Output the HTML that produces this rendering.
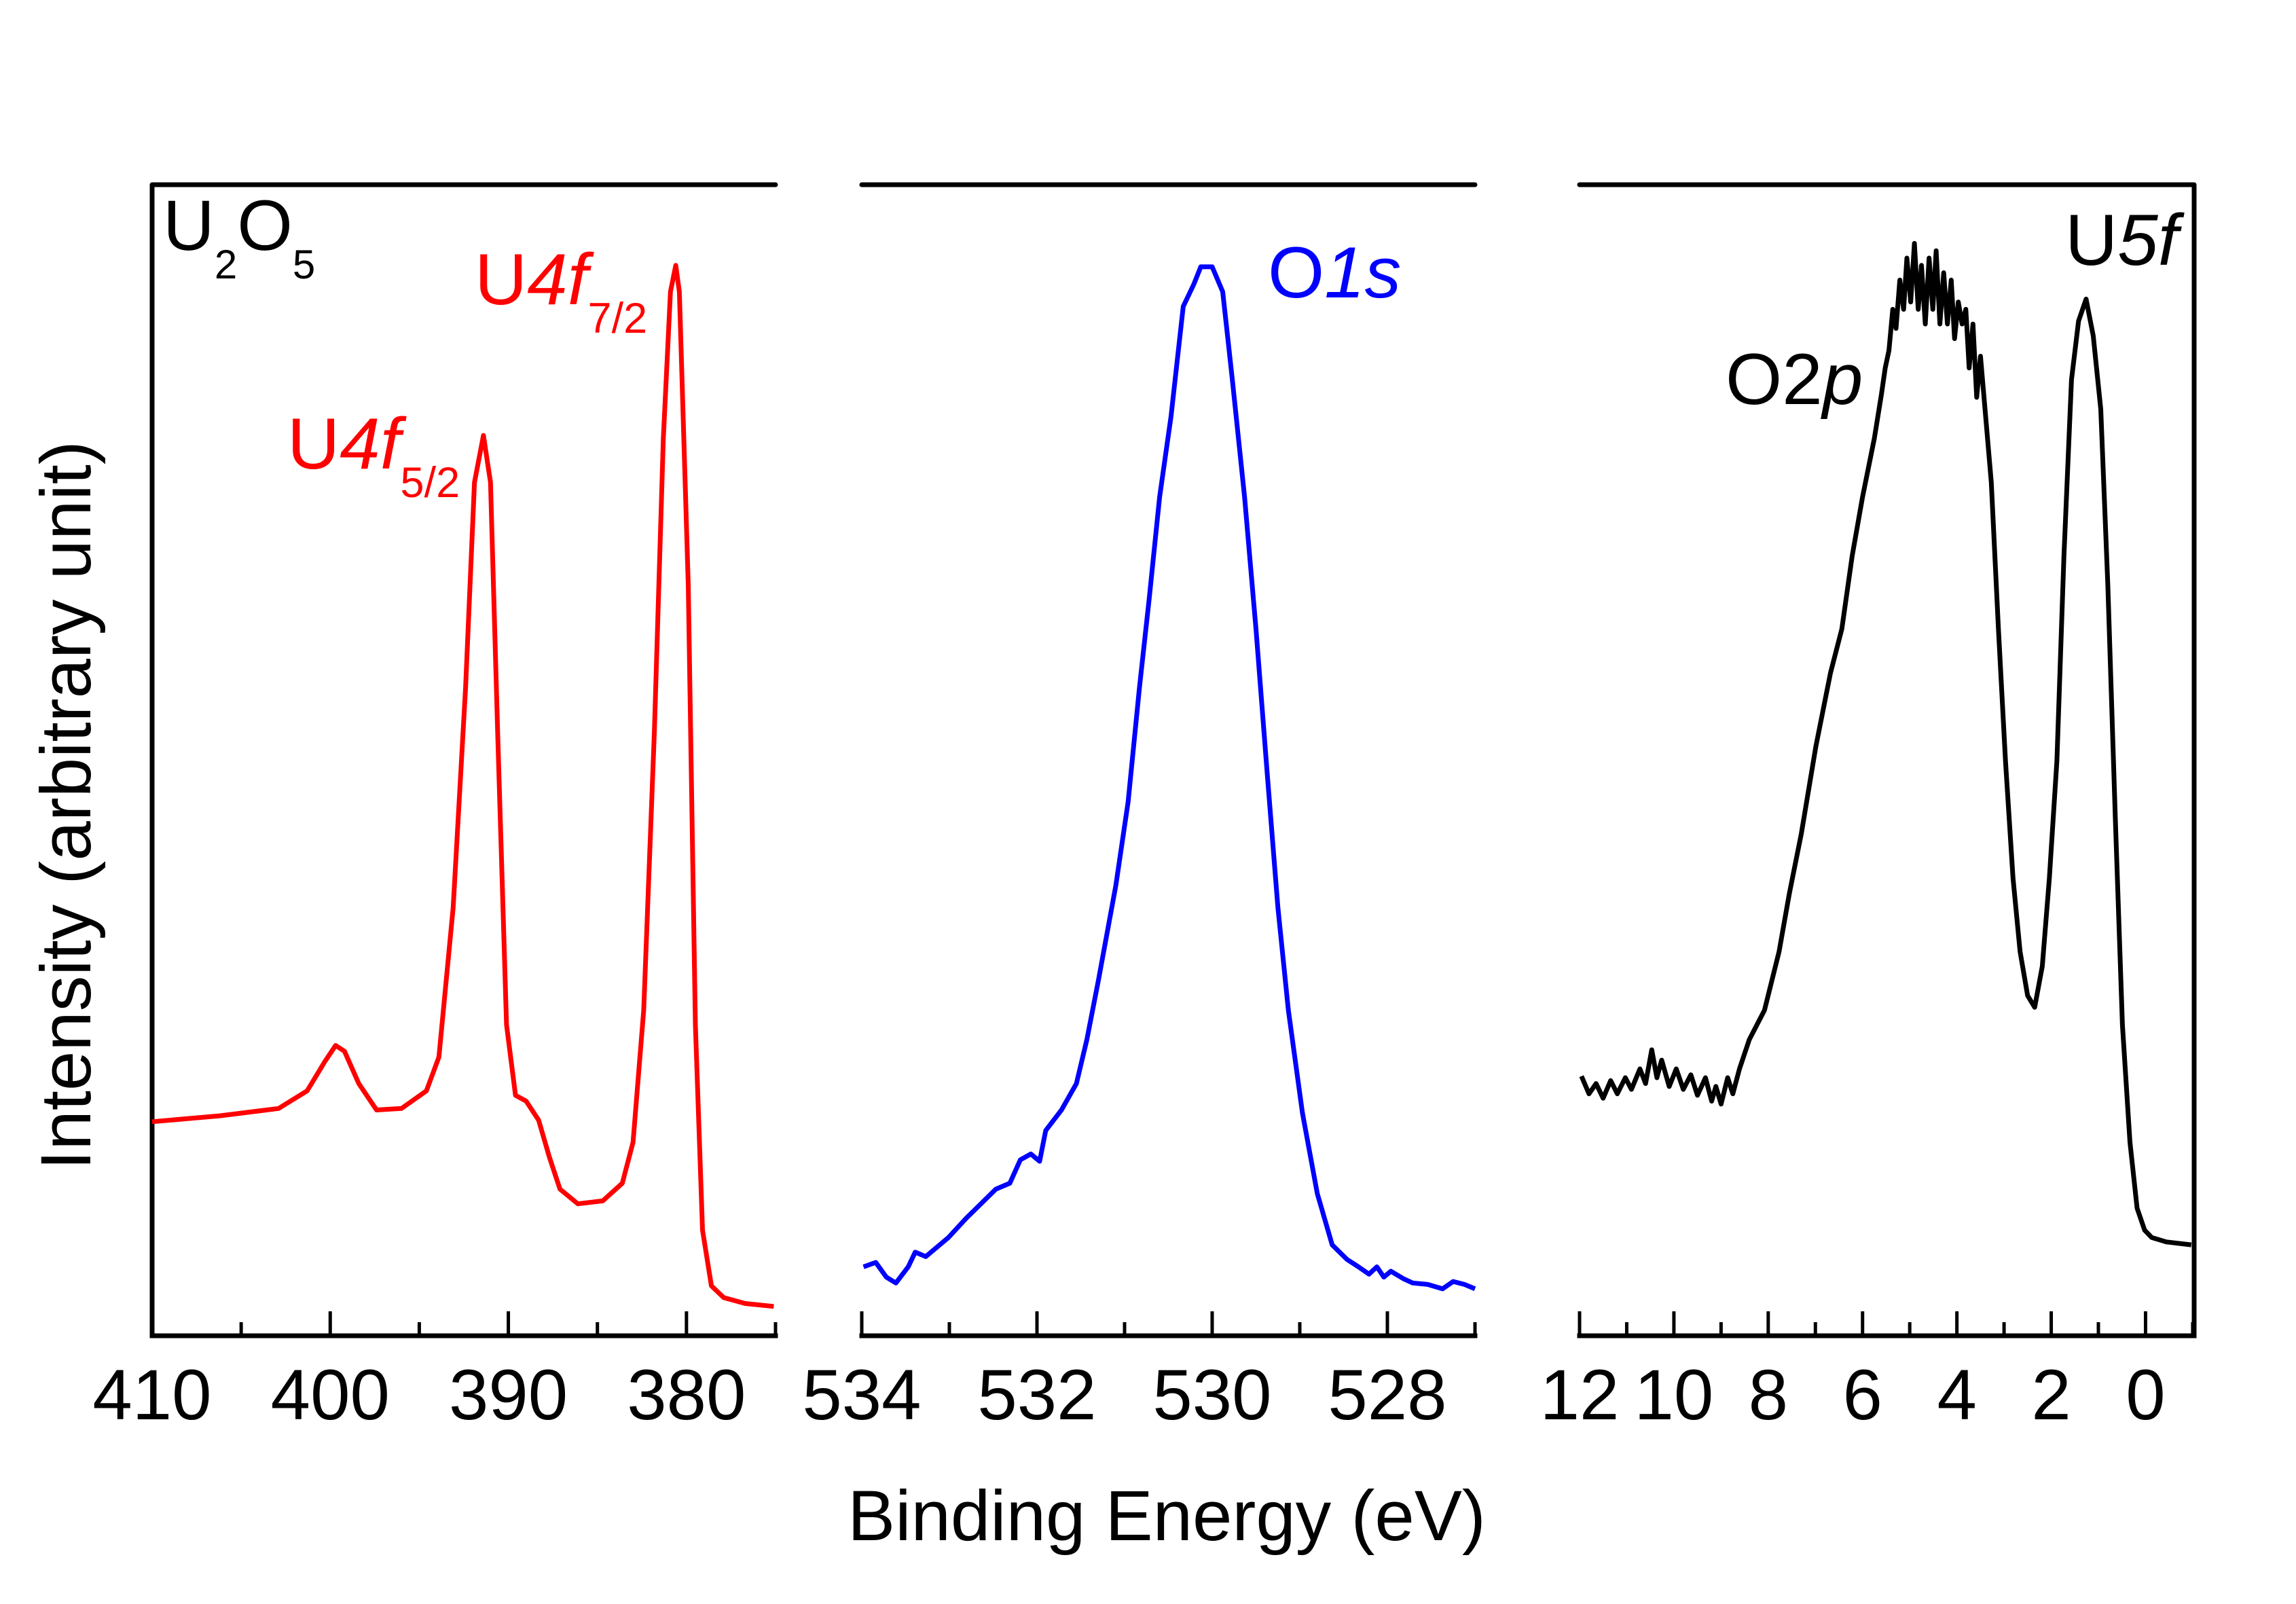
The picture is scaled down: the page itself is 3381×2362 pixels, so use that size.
<!DOCTYPE html>
<html><head><meta charset="utf-8"><style>
html,body{margin:0;padding:0;background:#fff;}
svg{display:block;font-family:"Liberation Sans",Arial,sans-serif;}
</style></head><body>
<svg id="chart" width="3381" height="2362" viewBox="0 0 3381 2362">
<rect width="3381" height="2362" fill="#fff"/>
<g id="frames"></g>
<g id="series"></g>
<g id="labels">
<text x="240" y="368" font-size="105" fill="#000">U<tspan font-size="60" dy="42">2</tspan><tspan dy="-42">O</tspan><tspan font-size="60" dy="42">5</tspan></text>
<text x="699" y="448" font-size="107" fill="#f00">U<tspan font-style="italic">4f</tspan><tspan font-size="63" dy="42">7/2</tspan></text>
<text x="423" y="690" font-size="107" fill="#f00">U<tspan font-style="italic">4f</tspan><tspan font-size="63" dy="42">5/2</tspan></text>
<text x="1867" y="438" font-size="107" fill="#0000ff">O<tspan font-style="italic">1s</tspan></text>
<text x="2541" y="595" font-size="107" fill="#000">O2<tspan font-style="italic">p</tspan></text>
<text x="3041" y="390" font-size="107" fill="#000">U<tspan font-style="italic">5f</tspan></text>
<text x="0" y="0" font-size="105" fill="#000" text-anchor="middle" transform="translate(133,1186) rotate(-90)">Intensity (arbitrary unit)</text>
<text x="1718" y="2268" font-size="105" fill="#000" text-anchor="middle">Binding Energy (eV)</text>
</g>
</svg>
<script>
// Panel 1: U4f (red)
const u4fEnergy=[410,406.2,402.9,401.3,400.3,399.7,399.2,398.4,397.4,396.0,394.6,393.9,393.1,392.4,391.9,391.4,391.0,390.6,390.1,389.6,389.0,388.3,387.7,387.1,386.1,384.7,383.6,383.0,382.4,381.8,381.3,380.9,380.6,380.4,379.9,379.5,379.1,378.6,377.9,376.7,375.1];
const u4fIntensity=[146,150,155,167,187,198,194,172,154,155,167,190,292,442,582,614,582,412,212,164,160,147,122,100,90,92,104,132,222,412,612,712,730,712,512,212,72,34,26,22,20];
// Panel 2: O1s (blue)
const o1sEnergy=[533.98,533.84,533.72,533.61,533.47,533.39,533.27,533.01,532.81,532.47,532.31,532.19,532.07,531.97,531.90,531.72,531.55,531.43,531.30,531.10,530.96,530.83,530.72,530.60,530.47,530.33,530.21,530.13,530.00,529.88,529.77,529.63,529.50,529.37,529.25,529.13,528.97,528.80,528.63,528.46,528.33,528.21,528.12,528.04,527.96,527.82,527.71,527.54,527.37,527.25,527.12,527.00];
const o1sIntensity=[47,50,40,36,47,57,54,67,80,100,104,120,124,119,140,154,172,202,242,307,364,442,502,572,627,702,717,729,729,712,652,572,482,382,292,222,152,97,62,52,47,42,47,40,44,39,36,35,32,37,35,32];
// Panel 3: valence band (black)
const vbEnergy=[11.96,11.8,11.65,11.5,11.34,11.2,11.03,10.9,10.72,10.6,10.47,10.36,10.26,10.1,9.95,9.8,9.64,9.5,9.33,9.2,9.11,9.0,8.86,8.75,8.61,8.40,8.08,7.77,7.55,7.30,6.99,6.68,6.44,6.22,6.00,5.75,5.60,5.52,5.44,5.36,5.29,5.21,5.13,5.06,4.98,4.90,4.82,4.75,4.67,4.59,4.51,4.44,4.36,4.28,4.20,4.12,4.05,3.97,3.89,3.81,3.74,3.66,3.58,3.50,3.43,3.27,3.12,2.97,2.81,2.66,2.50,2.35,2.19,2.04,1.88,1.73,1.57,1.42,1.26,1.11,0.95,0.80,0.64,0.49,0.33,0.18,0.02,-0.13,-0.44,-0.97];
const vbIntensity=[177,165,172,162,174,165,176,168,182,172,195,176,188,170,182,168,178,164,176,160,170,158,176,165,182,202,222,262,302,342,402,452,482,532,572,612,642,660,672,700,687,720,700,735,705,745,700,730,690,735,700,740,690,725,690,720,680,705,690,700,660,690,640,668,642,582,482,392,312,262,232,224,252,312,392,532,652,692,707,682,632,512,352,212,132,87,72,67,64,62];
// Tick labels
const ticks1=[410,400,390,380];
const ticks2=[534,532,530,528];
const ticks3=[12,10,8,6,4,2,0];

const NS='http://www.w3.org/2000/svg';
const TOP=272,BOT=1967;
function yScale(v){return BOT-v*(BOT-TOP)/785;}
function mk(tag,attrs,parent){const e=document.createElementNS(NS,tag);for(const k in attrs)e.setAttribute(k,attrs[k]);parent.appendChild(e);return e;}
const frames=document.getElementById('frames');
const series=document.getElementById('series');
const panels=[
 {name:'u4f',x0:224,x1:1142,e0:410,e1:375,ticks:ticks1,minorStep:5,left:true,right:false,E:u4fEnergy,I:u4fIntensity,color:'#ff0000'},
 {name:'o1s',x0:1269,x1:2172,e0:534,e1:527,ticks:ticks2,minorStep:1,left:false,right:false,E:o1sEnergy,I:o1sIntensity,color:'#0000ff'},
 {name:'valence',x0:2326,x1:3231,e0:12,e1:-1.03,ticks:ticks3,minorStep:1,left:false,right:true,E:vbEnergy,I:vbIntensity,color:'#000000'}
];
panels.forEach(p=>{
 const xs=e=>p.x0+(e-p.e0)*(p.x1-p.x0)/(p.e1-p.e0);
 let l=mk('line',{x1:p.x0,y1:TOP,x2:p.x1,y2:TOP,stroke:'#000','stroke-width':7,'stroke-linecap':'round'},frames);
 
 
 l=mk('line',{x1:p.x0,y1:BOT,x2:p.x1,y2:BOT,stroke:'#000','stroke-width':7,'stroke-linecap':'square'},frames);
 
 
 if(p.left){l=mk('line',{x1:p.x0,y1:TOP,x2:p.x0,y2:BOT,stroke:'#000','stroke-width':7},frames);
 
 }
 if(p.right){l=mk('line',{x1:p.x1,y1:TOP,x2:p.x1,y2:BOT,stroke:'#000','stroke-width':7},frames);
 
 }
 const lo=Math.min(p.e0,p.e1),hi=Math.max(p.e0,p.e1);
 for(let e=Math.ceil(lo/p.minorStep)*p.minorStep;e<=hi+1e-9;e+=p.minorStep){
  const major=p.ticks.some(t=>Math.abs(t-e)<1e-9);
  const x=xs(e);
  const t=mk('line',{x1:x,y1:BOT,x2:x,y2:BOT-(major?36:20),stroke:'#000','stroke-width':5},frames);
  
  
 }
 p.ticks.forEach(v=>{
  const t=mk('text',{x:xs(v),y:2090,'font-size':105,'text-anchor':'middle',fill:'#000'},frames);
  t.textContent=String(v);
  
  
 });
 const pts=p.E.map((e,i)=>xs(e).toFixed(1)+','+yScale(p.I[i]).toFixed(1)).join(' ');
 const pl=mk('polyline',{points:pts,fill:'none',stroke:p.color,'stroke-width':7,'stroke-linejoin':'round'},series);
 
 
});
</script>
</body></html>
